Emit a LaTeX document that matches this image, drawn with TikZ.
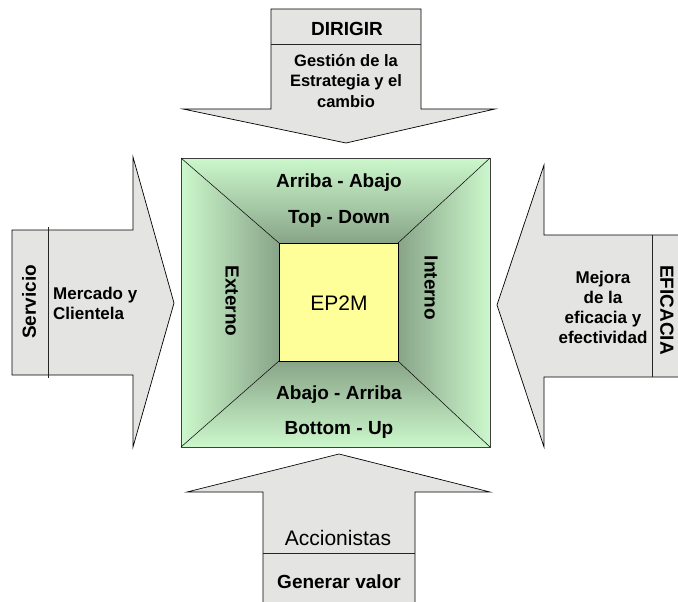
\documentclass[tikz,border=0pt]{standalone}
\usepackage{fontspec}
\setmainfont{Liberation Sans}
\definecolor{granite}{RGB}{228,228,226}
\definecolor{glight}{RGB}{204,248,204}
\definecolor{gdark}{RGB}{136,164,136}
\definecolor{ep}{RGB}{255,255,153}
\begin{document}
\begin{tikzpicture}[x=1pt,y=-1pt,
  arrowshape/.style={fill=granite, draw=black, line width=0.7pt, line join=miter},
  sepline/.style={draw=black!85, line width=0.6pt},
  framebox/.style={draw=black!75, line width=0.6pt},
  bl/.style={font=\bfseries\fontsize{17}{20}\selectfont, align=center, inner sep=0pt},
  big/.style={font=\bfseries\fontsize{19}{22}\selectfont, inner sep=0pt},
  reg/.style={font=\fontsize{21}{24}\selectfont, inner sep=0pt}]
\clip (0,0) rectangle (678,602);
\fill[white] (0,0) rectangle (678,602);
% ---- arrows ----
% top
\draw[arrowshape] (271,9) -- (421,9) -- (421,109) -- (495,109) -- (346,143) -- (183,109) -- (271,109) -- cycle;
\coordinate (tsepL) at (271,44); \coordinate (tsepR) at (421,44);
\draw[sepline] (tsepL) -- (tsepR);
% left
\draw[arrowshape] (12,230) -- (133,230) -- (133,157) -- (174,303) -- (133,447) -- (133,375) -- (12,375) -- cycle;
\coordinate (lsepT) at (48,227); \coordinate (lsepB) at (48,378);
\draw[sepline] (lsepT) -- (lsepB);
% right
\draw[arrowshape] (690,235) -- (544,235) -- (544,165) -- (497,305) -- (544,447) -- (544,377) -- (690,377) -- cycle;
\coordinate (rsepT) at (652,235); \coordinate (rsepB) at (652,377);
\draw[sepline] (rsepT) -- (rsepB);
% bottom
\draw[arrowshape] (263,615) -- (263,492) -- (187,492) -- (339,454) -- (490,492) -- (415,492) -- (415,615) -- cycle;
\coordinate (bsepL) at (263,553); \coordinate (bsepR) at (415,553);
\draw[sepline] (bsepL) -- (bsepR);
% ---- central frame ----
\coordinate (o1) at (181,158); \coordinate (o2) at (490,158);
\coordinate (o3) at (490,447); \coordinate (o4) at (181,447);
\coordinate (i1) at (279,243); \coordinate (i2) at (398,243);
\coordinate (i3) at (398,361); \coordinate (i4) at (279,361);
\begin{scope}
\clip (o1) -- (o2) -- (i2) -- (i1) -- cycle;
\shade[top color=glight, middle color=glight!96!gdark, bottom color=gdark] (181,158) rectangle (490,243);
\end{scope}
\begin{scope}
\clip (o4) -- (o3) -- (i3) -- (i4) -- cycle;
\shade[bottom color=glight, middle color=glight!96!gdark, top color=gdark] (181,361) rectangle (490,447);
\end{scope}
\begin{scope}
\clip (o1) -- (i1) -- (i4) -- (o4) -- cycle;
\shade[left color=glight, middle color=glight!96!gdark, right color=gdark] (181,158) rectangle (279,447);
\end{scope}
\begin{scope}
\clip (o2) -- (i2) -- (i3) -- (o3) -- cycle;
\shade[right color=glight, middle color=glight!96!gdark, left color=gdark] (398,158) rectangle (490,447);
\end{scope}
\draw[framebox] (o1) -- (o2) -- (o3) -- (o4) -- cycle;
\draw[line width=0.5pt] (o1) -- (i1) (o2) -- (i2) (o3) -- (i3) (o4) -- (i4);
\draw[fill=ep, line width=0.7pt] (i1) rectangle (i3);
% ---- texts ----
\node[big] (dirigir) at (347,29) {DIRIGIR};
\node[bl, font=\bfseries\fontsize{16.5}{20.5}\selectfont] (gestion) at (346,81) {Gestión de la\\Estrategia y el\\cambio};
\node[big] (arriba) at (339,183) {Arriba - Abajo};
\node[big] (topdown) at (339,219) {Top - Down};
\node[big, rotate=-90] (externo) at (232,301) {Externo};
\node[big, rotate=-90] (interno) at (431,288) {Interno};
\node[reg] (ep2m) at (339,303) {EP2M};
\node[big] (abajo) at (339,395) {Abajo - Arriba};
\node[big] (bottomup) at (339,430) {Bottom - Up};
\node[big, rotate=90] (servicio) at (29,302) {Servicio};
\node[bl, align=left, anchor=west] (mercado) at (53,303) {Mercado y\\Clientela};
\node[bl] (mejora) at (603,307) {Mejora\\de la\\eficacia y\\efectividad};
\node[big, rotate=-90] (eficacia) at (667,310) {EFICACIA};
\node[reg] (accionistas) at (338,538) {Accionistas};
\node[big] (generar) at (339,582) {Generar valor};
\end{tikzpicture}
\end{document}
